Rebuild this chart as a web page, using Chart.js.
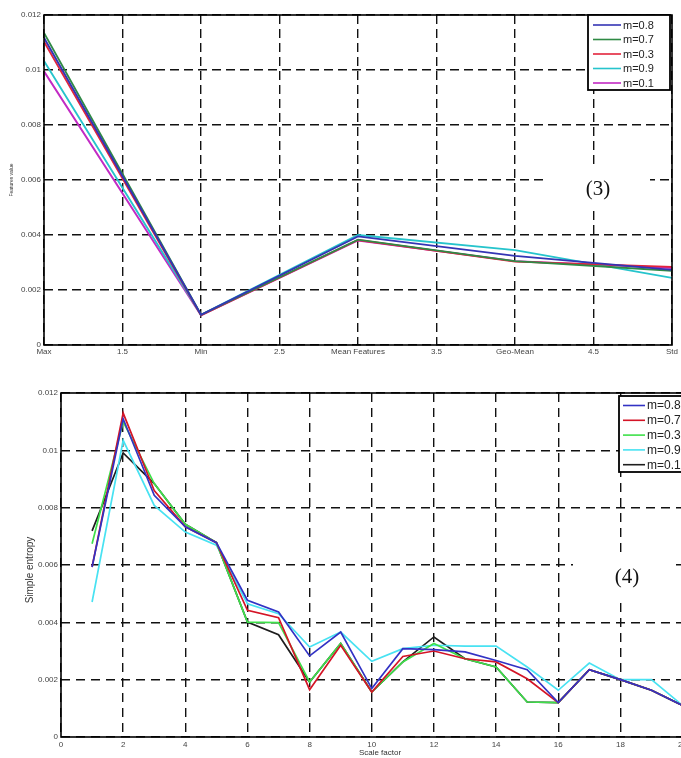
<!DOCTYPE html>
<html>
<head>
<meta charset="utf-8">
<script src="https://cdn.jsdelivr.net/npm/chart.js@4.4.1/dist/chart.umd.min.js"></script>
<style>
  html, body { margin: 0; padding: 0; background: #fff; overflow: hidden; }
  .panel { position: absolute; left: 0; width: 681px; overflow: hidden; }
  #p3 { top: 0; height: 370px; }
  #p4 { top: 375px; height: 383px; }
</style>
</head>
<body>
<div class="panel" id="p3"><canvas id="c3" width="681" height="370"></canvas></div>
<div class="panel" id="p4"><canvas id="c4" width="690" height="383"></canvas></div>
<script>
// ---- datos (3): valor de cada característica ----
const features    = ["Max", "Min", "Mean Features", "Geo-Mean", "Std"];
const featureX    = [1, 2, 3, 4, 5];
const xTicks3     = ["Max", "1.5", "Min", "2.5", "Mean Features", "3.5", "Geo-Mean", "4.5", "Std"];
const labels3     = ["m=0.8", "m=0.7", "m=0.3", "m=0.9", "m=0.1"];
const colors3     = ["#3434b4", "#2f8a45", "#e2243c", "#26c4cc", "#c22ac4"];
const f_m08 = [0.01117, 0.00110, 0.00395, 0.00324, 0.00273];
const f_m07 = [0.01135, 0.00110, 0.00383, 0.00305, 0.00270];
const f_m03 = [0.01103, 0.00108, 0.00382, 0.00303, 0.00284];
const f_m09 = [0.01033, 0.00110, 0.00400, 0.00345, 0.00244];
const f_m01 = [0.00995, 0.00108, 0.00380, 0.00305, 0.00280];

// ---- datos (4): entropía por factor de escala ----
const scaleFactor = [1, 2, 3, 4, 5, 6, 7, 8, 9, 10, 11, 12, 13, 14, 15, 16, 17, 18, 19, 20];
const labels4     = ["m=0.8", "m=0.7", "m=0.3", "m=0.9", "m=0.1"];
const colors4     = ["#3232c4", "#d41426", "#3ee04a", "#48e2f2", "#1e1e1e"];
const e_m08 = [0.00593, 0.01110, 0.00843, 0.00733, 0.00678, 0.00477, 0.00436, 0.00283, 0.00366, 0.00169, 0.00308, 0.00305, 0.00297, 0.00267, 0.00235, 0.00120, 0.00235, 0.00200, 0.00163, 0.00110];
const e_m07 = [0.00593, 0.01130, 0.00860, 0.00733, 0.00678, 0.00442, 0.00416, 0.00165, 0.00320, 0.00157, 0.00281, 0.00300, 0.00273, 0.00262, 0.00203, 0.00120, 0.00235, 0.00200, 0.00163, 0.00110];
const e_m03 = [0.00674, 0.01100, 0.00884, 0.00742, 0.00678, 0.00401, 0.00399, 0.00192, 0.00326, 0.00157, 0.00262, 0.00326, 0.00273, 0.00244, 0.00122, 0.00120, 0.00235, 0.00200, 0.00163, 0.00110];
const e_m09 = [0.00471, 0.01035, 0.00808, 0.00715, 0.00669, 0.00465, 0.00430, 0.00314, 0.00366, 0.00264, 0.00308, 0.00320, 0.00317, 0.00317, 0.00244, 0.00163, 0.00258, 0.00200, 0.00200, 0.00110];
const e_m01 = [0.00719, 0.00991, 0.00884, 0.00742, 0.00678, 0.00401, 0.00357, 0.00192, 0.00326, 0.00157, 0.00262, 0.00349, 0.00273, 0.00244, 0.00122, 0.00120, 0.00235, 0.00200, 0.00163, 0.00110];

const yTickFmt = (v) => String(Number(v.toFixed(3)));
const SANS = "'Liberation Sans', Arial, sans-serif";

function toPoints(xs, ys) { return xs.map((x, i) => ({ x, y: ys[i] })); }

// Marco, etiqueta (n), títulos de ejes y leyenda al estilo MATLAB
const matlabDecor = {
    id: "matlabDecor",
    afterDatasetsDraw(chart, args, o) {
        const { ctx, chartArea: a } = chart;
        ctx.save();
        // hueco blanco detrás de la etiqueta (n)
        ctx.fillStyle = "#fff";
        ctx.fillRect(o.tagBox[0], o.tagBox[1], o.tagBox[2], o.tagBox[3]);
        ctx.fillStyle = "#111";
        ctx.font = "21px 'Liberation Serif', 'Times New Roman', serif";
        ctx.textAlign = "center";
        ctx.textBaseline = "middle";
        ctx.fillText(o.tag, o.tagPos[0], o.tagPos[1]);

        // marco
        ctx.strokeStyle = "#000";
        ctx.lineWidth = 1.6;
        ctx.setLineDash([]);
        ctx.strokeRect(a.left, a.top, a.right - a.left, a.bottom - a.top);

        // título eje y
        ctx.fillStyle = "#333";
        ctx.font = o.yTitleFont;
        ctx.translate(o.yTitlePos[0], o.yTitlePos[1]);
        ctx.rotate(-Math.PI / 2);
        ctx.fillText(o.yTitle, 0, 0);
        ctx.setTransform(1, 0, 0, 1, 0, 0);
        if (o.xTitle) {
            ctx.font = o.xTitleFont;
            ctx.fillText(o.xTitle, o.xTitlePos[0], o.xTitlePos[1]);
        }

        // leyenda
        const L = o.legend;
        ctx.fillStyle = "#fff";
        ctx.fillRect(L.x, L.y, L.w, L.h);
        ctx.strokeStyle = "#000";
        ctx.lineWidth = 1.8;
        ctx.strokeRect(L.x, L.y, L.w, L.h);
        ctx.font = L.font;
        ctx.textAlign = "left";
        chart.data.datasets.forEach((ds, i) => {
            const yy = L.y + L.first + i * L.step;
            ctx.strokeStyle = ds.borderColor;
            ctx.lineWidth = 1.6;
            ctx.beginPath();
            ctx.moveTo(L.x + L.lx0, yy);
            ctx.lineTo(L.x + L.lx1, yy);
            ctx.stroke();
            ctx.fillStyle = "#222";
            ctx.fillText(ds.label, L.x + L.tx, yy + 0.5);
        });
        ctx.restore();
    },
};

function gridCfg() {
    return { color: "#111", lineWidth: 1.4, drawTicks: false };
}

// ---------------- gráfico (3) ----------------
new Chart(document.getElementById("c3"), {
    type: "line",
    data: {
        datasets: [f_m08, f_m07, f_m03, f_m09, f_m01].map((d, i) => ({
            label: labels3[i],
            data: toPoints(featureX, d),
            borderColor: colors3[i],
            borderWidth: 1.9,
            pointRadius: 0,
            tension: 0,
        })),
    },
    options: {
        responsive: false,
        animation: false,
        devicePixelRatio: 1,
        layout: { padding: { top: 15, right: 9, left: 0, bottom: 0 } },
        plugins: {
            legend: { display: false },
            tooltip: { enabled: false },
            matlabDecor: {
                tag: "(3)", tagPos: [598, 189], tagBox: [546, 168, 104, 42],
                yTitle: "Features value", yTitlePos: [12, 180], yTitleFont: "5px " + SANS,
                legend: { x: 588, y: 15, w: 82, h: 75, first: 10, step: 14.5,
                          lx0: 5, lx1: 33, tx: 35, font: "11px " + SANS },
            },
        },
        scales: {
            x: {
                type: "linear", min: 1, max: 5,
                afterFit: (s) => { s.height = 25; },
                ticks: {
                    stepSize: 0.5, padding: 2, maxRotation: 0, autoSkip: false,
                    color: "#444", font: { size: 8, family: SANS },
                    callback: (v) => xTicks3[Math.round((v - 1) * 2)],
                },
                grid: gridCfg(),
                border: { display: false, dash: [9, 5] },
            },
            y: {
                min: 0, max: 0.012,
                afterFit: (s) => { s.width = 44; },
                ticks: {
                    stepSize: 0.002, padding: 3,
                    color: "#444", font: { size: 8, family: SANS },
                    callback: yTickFmt,
                },
                grid: gridCfg(),
                border: { display: false, dash: [9, 5] },
            },
        },
    },
    plugins: [matlabDecor],
});

// ---------------- gráfico (4) ----------------
new Chart(document.getElementById("c4"), {
    type: "line",
    data: {
        datasets: [e_m08, e_m07, e_m03, e_m09, e_m01].map((d, i) => ({
            label: labels4[i],
            data: toPoints(scaleFactor, d),
            borderColor: colors4[i],
            borderWidth: 1.7,
            pointRadius: 0,
            tension: 0,
        })),
    },
    options: {
        responsive: false,
        animation: false,
        devicePixelRatio: 1,
        layout: { padding: { top: 18, right: 7, left: 0, bottom: 0 } },
        plugins: {
            legend: { display: false },
            tooltip: { enabled: false },
            matlabDecor: {
                tag: "(4)", tagPos: [627, 202], tagBox: [573, 182, 100, 40],
                yTitle: "Simple entropy", yTitlePos: [30, 195], yTitleFont: "10px " + SANS,
                xTitle: "Scale factor", xTitlePos: [380, 378], xTitleFont: "8px " + SANS,
                legend: { x: 619, y: 21, w: 80, h: 76, first: 9.5, step: 14.8,
                          lx0: 4, lx1: 26, tx: 28, font: "12px " + SANS },
            },
        },
        scales: {
            x: {
                type: "linear", min: 0, max: 20,
                afterFit: (s) => { s.height = 21; },
                ticks: {
                    stepSize: 2, padding: 3, maxRotation: 0, autoSkip: false,
                    color: "#444", font: { size: 8, family: SANS },
                },
                grid: gridCfg(),
                border: { display: false, dash: [9, 6] },
            },
            y: {
                min: 0, max: 0.012,
                afterFit: (s) => { s.width = 61; },
                ticks: {
                    stepSize: 0.002, padding: 3,
                    color: "#444", font: { size: 8, family: SANS },
                    callback: yTickFmt,
                },
                grid: gridCfg(),
                border: { display: false, dash: [9, 6] },
            },
        },
    },
    plugins: [matlabDecor],
});
</script>
</body>
</html>
